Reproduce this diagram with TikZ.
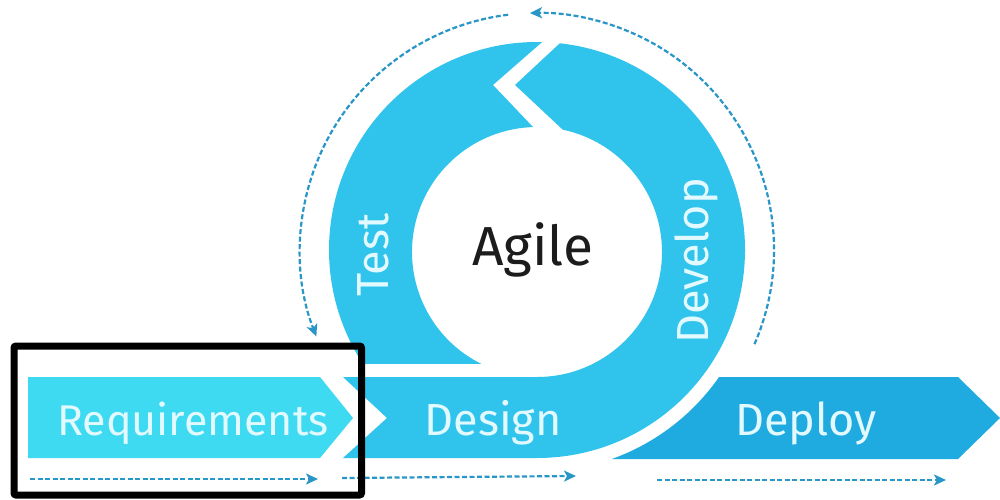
\documentclass[tikz,border=0pt]{standalone}
\usepackage{fontspec}
\setmainfont{Fira Sans}
\usetikzlibrary{arrows.meta,calc}
\definecolor{reqc}{HTML}{3DDAF2}
\definecolor{ringc}{HTML}{30C4EC}
\definecolor{deployc}{HTML}{1FAAE0}
\definecolor{dashc}{HTML}{2896C6}
\definecolor{labc}{HTML}{E2FAFF}
\definecolor{agilec}{HTML}{1C1C1C}
\tikzset{
  dashline/.style={draw=dashc, line width=2.2pt, dash pattern=on 5pt off 2.5pt,
    -{Stealth[length=12pt,width=11pt,inset=3pt]}},
  lab/.style={text=labc, inner sep=0pt, anchor=base, font=\fontsize{45}{54}\selectfont},
  framebox/.style={draw=black, line width=7pt, rounded corners=2pt}
}
\begin{document}
\begin{tikzpicture}[x=1pt,y=1pt]
\fill[white] (0,0) rectangle (1000,499);
\useasboundingbox (0,0) rectangle (1000,499);
\coordinate (O) at (537,249);
\coordinate (I) at (537,247);
% Requirements bar
\fill[reqc] (28,122) -- (320,122) -- (353,81) -- (320,41) -- (28,41) -- cycle;
% Test piece
\fill[ringc] ($(O)+(88.6:208)$) arc[start angle=88.6, end angle=213.2, radius=208]
  -- ($(I)+(243.6:125)$) arc[start angle=243.6, end angle=91.8, radius=125]
  -- (493,414) -- cycle;
% Design + Develop piece
\fill[ringc] (515,414) -- ($(O)+(83.7:208)$) arc[start angle=83.7, end angle=-90, radius=208]
  -- (343,41) -- (387,81) -- (343,122) -- (537,122)
  arc[start angle=270, end angle=438.1, radius=125] -- cycle;
% Deploy bar
\fill[deployc] ($(O)+(-70.3:222)$) arc[start angle=-70.3, end angle=-34.9, radius=222]
  -- (958,122) -- (1000,81) -- (958,40) -- cycle;
% labels
\node[lab, font=\fontsize{43}{52}\selectfont] (req) at (193,64) {Requirements};
\node[lab] (des) at (493,64) {Design};
\node[lab] (dep) at (806,64) {Deploy};
\node[lab, rotate=90] (tst) at (388,244) {Test};
\node[lab, rotate=90] (dev) at (708,238) {Develop};
\node[text=agilec, inner sep=0pt, anchor=base, font=\fontsize{55}{64}\selectfont] (agile) at (533,234) {Agile};
% dashed cycle arrows
\coordinate (a1s) at ($(O)+(-23.4:237)$);
\coordinate (a2s) at ($(O)+(97:237)$);
\draw[dashline] (a1s) arc[start angle=-23.4, end angle=91.7, radius=237];
\draw[dashline] (a2s) arc[start angle=97, end angle=201.4, radius=237];
% bottom dashed arrows
\coordinate (b1s) at (30,20);  \coordinate (b1e) at (318,20);
\coordinate (b2s) at (342,21); \coordinate (b2e) at (576,23);
\coordinate (b3s) at (657,19); \coordinate (b3e) at (946,19);
\draw[dashline] (b1s) -- (b1e);
\draw[dashline] (b2s) -- (b2e);
\draw[dashline] (b3s) -- (b3e);
% black frame
\draw[framebox] (14,153) rectangle (361.5,4);
\end{tikzpicture}
\end{document}
